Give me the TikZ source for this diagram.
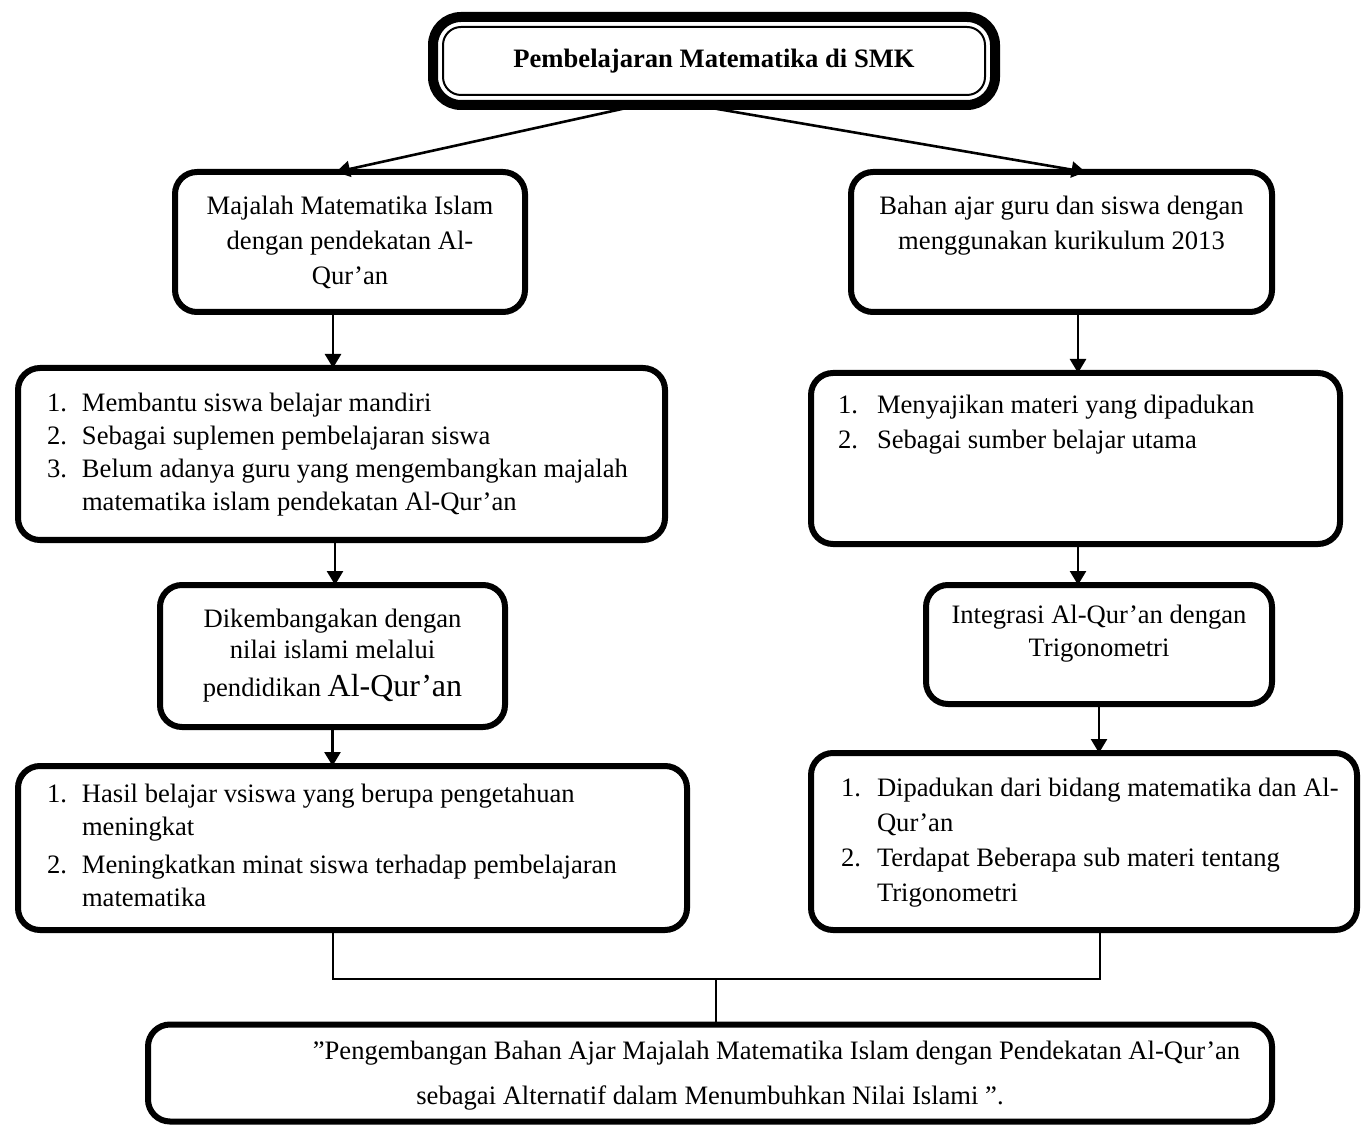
\documentclass[tikz,border=0pt]{standalone}
\usepackage{fontspec}
\setmainfont{Liberation Serif}
\usetikzlibrary{arrows.meta,positioning,calc}

\begin{document}
\begin{tikzpicture}[x=0.5pt, y=-0.5pt, >={Triangle[length=7pt,width=8pt]},
			box/.style={draw, line width=3pt, rounded corners=11pt, outer sep=0pt, inner sep=0pt, font=\fontsize{13.3}{16.5}\selectfont},
			listbox/.style={box, execute at begin node={\noindent\spaceskip=0pt\xspaceskip=0pt}},
			flowLine/.style={->, line width=1.3pt},
			joinLine/.style={-, line width=0.9pt}
			]
			\useasboundingbox (0,0) rectangle (1363,1127);
			
			\node[box, line width=5pt, rounded corners=14pt, minimum width=281pt, minimum height=44pt, font=\bfseries\fontsize{13.3}{16.5}\selectfont](title) at (714,61) {Pembelajaran Matematika di SMK};
			\draw[line width=1pt, rounded corners=9pt] ([shift={(10,10)}]title.north west) rectangle ([shift={(-10,-10)}]title.south east);
			
			% left column
			\node[box, minimum width=175pt, minimum height=70pt, align=center, font=\fontsize{13.3}{17.5}\selectfont](mag) at (350,242) {Majalah Matematika Islam\\dengan pendekatan Al-\\Qur’an};
			\node[listbox, minimum width=323.5pt, minimum height=86pt, inner xsep=14.5pt, text width=294.5pt](magpts) at (341.5,454) {\begin{tabular}{@{}p{17.5pt}@{}l@{}}
					1. & Membantu siswa belajar mandiri\\
					2. & Sebagai suplemen pembelajaran siswa\\
					3. & Belum adanya guru yang mengembangkan majalah\\
					& matematika islam pendekatan Al-Qur’an
				\end{tabular}};
			\node[box, minimum width=172.5pt, minimum height=71pt, align=center, font=\fontsize{13.3}{15.5}\selectfont](devel) at (332.5,656) {Dikembangakan dengan\\nilai islami melalui\\[3.5pt]pendidikan {\fontsize{16}{16}\selectfont Al-Qur’an}};
			\node[listbox, minimum width=334.5pt, minimum height=82pt, inner xsep=14.5pt, text width=305.5pt](result) at (352.5,848) {\begin{tabular}{@{}p{17.5pt}@{}l@{}}
					1. & Hasil belajar vsiswa yang berupa pengetahuan\\
					& meningkat\\[2.5pt]
					2. & Meningkatkan minat siswa terhadap pembelajaran\\
					& matematika
				\end{tabular}};
			
			% right column
			\node[box, minimum width=210.5pt, minimum height=70pt, font=\fontsize{13.3}{17.5}\selectfont](bahan) at (1061.5,242) {\begin{tabular}{@{}c@{}}
					Bahan ajar guru dan siswa dengan\\
					menggunakan kurikulum 2013\\[16.5pt]
				\end{tabular}};
			\node[listbox, minimum width=264.5pt, minimum height=85.5pt, inner xsep=13.5pt, text width=237.5pt, font=\fontsize{13.3}{17.5}\selectfont](bahanpts) at (1075.5,458.5) {\begin{tabular}{@{}p{19.5pt}@{}l@{}}
					1. & Menyajikan materi yang dipadukan\\
					2. & Sebagai sumber belajar utama\\[34pt]
				\end{tabular}};
			\node[box, minimum width=173pt, minimum height=59.5pt](integ) at (1099,644.5) {\begin{tabular}{@{}c@{}}
					Integrasi Al-Qur’an dengan\\
					Trigonometri\\[11pt]
				\end{tabular}};
			\node[listbox, minimum width=273pt, minimum height=88.5pt, inner xsep=15pt, text width=243pt, font=\fontsize{13.3}{17.5}\selectfont](integpts) at (1084,841.5) {\begin{tabular}{@{}p{18pt}@{}l@{}}
					1. & Dipadukan dari bidang matematika dan Al-\\
					& Qur’an\\
					2. & Terdapat Beberapa sub materi tentang\\
					& Trigonometri
				\end{tabular}};
			
			% conclusion
			\node[box, minimum width=562pt, minimum height=48.5pt, font=\fontsize{13.3}{22.5}\selectfont](concl) at (710,1073) {\begin{tabular}{@{}c@{}}
					\hspace*{66.5pt}”Pengembangan Bahan Ajar Majalah Matematika Islam dengan Pendekatan Al-Qur’an\\
					sebagai Alternatif dalam Menumbuhkan Nilai Islami ”.
				\end{tabular}};
			\coordinate (joint) at (716,979);
			
			\draw [flowLine] ([xshift=-37pt]title.south) to ([xshift=-7pt]mag.north);
			\draw [flowLine] ([xshift=-10pt]title.south) to ([xshift=12pt]bahan.north);
			\draw [flowLine] ([xshift=-8.5pt]mag.south) to ([xshift=-8.5pt]mag.south |- magpts.north);
			\draw [flowLine] ([xshift=-3.25pt]magpts.south) to ([xshift=-3.25pt]magpts.south |- devel.north);
			\draw [flowLine] (devel.south) to (devel.south |- result.north);
			\draw [flowLine] ([xshift=8.25pt]bahan.south) to ([xshift=8.25pt]bahan.south |- bahanpts.north);
			\draw [flowLine] ([xshift=1.25pt]bahanpts.south) to ([xshift=1.25pt]bahanpts.south |- integ.north);
			\draw [flowLine] (integ.south) to (integ.south |- integpts.north);
			\draw [joinLine] ([xshift=-9.75pt]result.south) |- (joint) -| ([xshift=8pt]integpts.south);
			\draw [joinLine] (joint) to (joint |- concl.north);
\end{tikzpicture}
\end{document}
